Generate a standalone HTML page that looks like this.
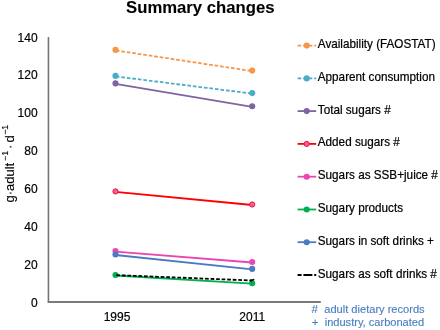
<!DOCTYPE html>
<html><head><meta charset="utf-8">
<style>
html,body{margin:0;padding:0;background:#fff;}
body{width:440px;height:330px;overflow:hidden;position:relative;font-family:"Liberation Sans",sans-serif;}
svg{position:absolute;left:0;top:0;will-change:transform;}
text{font-family:"Liberation Sans",sans-serif;}
</style></head><body>
<svg width="440" height="330" viewBox="0 0 440 330">
<text x="200.3" y="13.3" font-size="16.7" font-weight="bold" text-anchor="middle" fill="#000" stroke="#000" stroke-width="0.1">Summary changes</text>
<g transform="translate(14.3,202.6) rotate(-90)" fill="#000" stroke="#000" stroke-width="0.15"><text x="0" y="0" font-size="13">g·adult</text><text x="42.2" y="-6.6" font-size="8.4">−1</text><text x="53.6" y="0" font-size="13">·</text><text x="60.0" y="0" font-size="13">d</text><text x="67.8" y="-6.8" font-size="8.8">−1</text></g>
<g font-size="12" text-anchor="end" fill="#000" stroke="#000" stroke-width="0.2">
<text x="37.6" y="41.5">140</text>
<text x="37.6" y="79.4">120</text>
<text x="37.6" y="117.3">100</text>
<text x="37.6" y="155.2">80</text>
<text x="37.6" y="193.1">60</text>
<text x="37.6" y="231.0">40</text>
<text x="37.6" y="268.9">20</text>
<text x="37.6" y="306.8">0</text>
</g>
<g font-size="12" text-anchor="middle" fill="#000" stroke="#000" stroke-width="0.2"><text x="117" y="321.1">1995</text><text x="252.2" y="321.1">2011</text></g>
<path d="M48.45 36.9 V301.9" fill="none" stroke="#747474" stroke-width="1.6"/><path d="M47.65 302 H320.8" fill="none" stroke="#7a7a7a" stroke-width="1.9"/>
<line x1="115.5" y1="50.4" x2="252.2" y2="71.1" stroke="#F79646" stroke-width="1.8" stroke-dasharray="3.65,1.9" stroke-dashoffset="-0.3"/>
<circle cx="115.5" cy="49.9" r="3.05" fill="#F79646"/>
<circle cx="252.2" cy="70.6" r="3.05" fill="#F79646"/>
<line x1="115.5" y1="76.4" x2="252.2" y2="93.6" stroke="#4BACC6" stroke-width="1.8" stroke-dasharray="3.65,1.9" stroke-dashoffset="-0.3"/>
<circle cx="115.5" cy="75.9" r="3.05" fill="#4BACC6"/>
<circle cx="252.2" cy="93.1" r="3.05" fill="#4BACC6"/>
<line x1="115.5" y1="83.9" x2="252.2" y2="106.8" stroke="#8064A2" stroke-width="1.8"/>
<circle cx="115.5" cy="83.4" r="3.05" fill="#8064A2"/>
<circle cx="252.2" cy="106.3" r="3.05" fill="#8064A2"/>
<line x1="115.5" y1="191.9" x2="252.2" y2="205.0" stroke="#FF0000" stroke-width="1.8"/>
<circle cx="115.5" cy="191.4" r="2.6" fill="#E45FBC" stroke="#FF1010" stroke-width="1.0"/>
<circle cx="252.2" cy="204.5" r="2.6" fill="#E45FBC" stroke="#FF1010" stroke-width="1.0"/>
<line x1="115.5" y1="251.6" x2="252.2" y2="262.5" stroke="#EB45B2" stroke-width="1.8"/>
<circle cx="115.5" cy="251.1" r="3.05" fill="#EB45B2"/>
<circle cx="252.2" cy="262.0" r="3.05" fill="#EB45B2"/>
<line x1="115.5" y1="275.5" x2="252.2" y2="283.7" stroke="#00B050" stroke-width="1.8"/>
<circle cx="115.5" cy="275.0" r="3.05" fill="#00B050"/>
<circle cx="252.2" cy="283.2" r="3.05" fill="#00B050"/>
<line x1="115.5" y1="255.0" x2="252.2" y2="269.4" stroke="#4A7BC0" stroke-width="1.8"/>
<circle cx="115.5" cy="254.5" r="3.05" fill="#4A7BC0"/>
<circle cx="252.2" cy="268.9" r="3.05" fill="#4A7BC0"/>
<line x1="115.5" y1="275.1" x2="252.2" y2="280.5" stroke="#000000" stroke-width="1.8" stroke-dasharray="3.7,1.85" stroke-dashoffset="-0.8"/>
<path d="M249.8 280.8 L254.3 279.6" stroke="#000" stroke-width="1.6" fill="none"/>
<g stroke-width="1.8" fill="none">
<path d="M297.6 45.6 H316.2" stroke="#F79646" stroke-dasharray="3.65,1.9"/>
<path d="M297.6 78.4 H316.2" stroke="#4BACC6" stroke-dasharray="3.65,1.9"/>
<path d="M297.6 111.1 H316.2" stroke="#8064A2"/>
<path d="M297.6 143.9 H316.2" stroke="#FF0000"/>
<path d="M297.6 176.7 H316.2" stroke="#EB45B2"/>
<path d="M297.6 209.5 H316.2" stroke="#00B050"/>
<path d="M297.6 242.2 H316.2" stroke="#4A7BC0"/>
<path d="M297.6 275.0 H316.2" stroke="#000" stroke-dasharray="4,1.8,9,1.8,2,9"/>
</g>
<circle cx="306.7" cy="45.6" r="3.05" fill="#F79646"/>
<circle cx="306.7" cy="78.4" r="3.05" fill="#4BACC6"/>
<circle cx="306.7" cy="111.1" r="3.05" fill="#8064A2"/>
<circle cx="306.7" cy="143.9" r="2.6" fill="#E45FBC" stroke="#FF1010" stroke-width="1.0"/>
<circle cx="306.7" cy="176.7" r="3.05" fill="#EB45B2"/>
<circle cx="306.7" cy="209.5" r="3.05" fill="#00B050"/>
<circle cx="306.7" cy="242.2" r="3.05" fill="#4A7BC0"/>
<g font-size="12.3" fill="#000" stroke="#000" stroke-width="0.22" transform="translate(317.8,0) scale(0.953,1) translate(-317.8,0)">
<text x="317.8" y="48.2">Availability (FAOSTAT)</text>
<text x="317.8" y="81.0">Apparent consumption</text>
<text x="317.8" y="113.7">Total sugars #</text>
<text x="317.8" y="146.5">Added sugars #</text>
<text x="317.8" y="179.3">Sugars as SSB+juice #</text>
<text x="317.8" y="212.1">Sugary products</text>
<text x="317.8" y="244.8">Sugars in soft drinks +</text>
<text x="317.8" y="277.6">Sugars as soft drinks #</text>
</g>
<g font-size="11.6" fill="#4A7EBF" stroke="#4A7EBF" stroke-width="0.15">
<text x="311.6" y="312.7">#</text>
<text x="311.7" y="325.6">+</text>
<g transform="translate(324.3,0) scale(0.956,1) translate(-324.3,0)">
<text x="324.3" y="312.7">adult dietary records</text>
<text x="324.7" y="325.6">industry, carbonated</text>
</g>
</g>
</svg>
</body></html>
